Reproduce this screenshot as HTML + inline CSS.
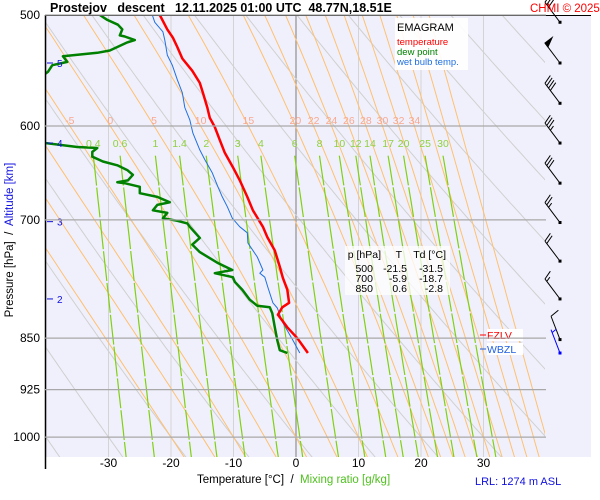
<!DOCTYPE html>
<html><head><meta charset="utf-8">
<style>
html,body{margin:0;padding:0;background:#fff;}
svg{display:block;font-family:"Liberation Sans",sans-serif;}
</style></head>
<body>
<svg id="chart" width="600" height="500" viewBox="0 0 600 500" xmlns="http://www.w3.org/2000/svg">
  <rect x="45" y="15" width="546" height="442" fill="#f0f0fc"/>
  <defs><clipPath id="plotclip"><rect x="45" y="15" width="500" height="442"/></clipPath></defs>
  <g id="grid" clip-path="url(#plotclip)"></g>
  <g id="series" clip-path="url(#plotclip)"></g>
  <g id="labels"></g>
  <g id="winds"></g>
  <line x1="45.5" y1="15" x2="45.5" y2="469" stroke="#000" stroke-width="1.5"/>
  <line x1="45" y1="15.5" x2="591" y2="15.5" stroke="#000" stroke-width="1"/>
  <text x="50" y="12" font-size="12.5" font-weight="bold" fill="#000" xml:space="preserve">Prostejov   descent   12.11.2025 01:00 UTC  48.77N,18.51E</text>
  <text x="530" y="12" font-size="11.5" fill="#f00">CHMI © 2025</text>
  <text transform="translate(13,240) rotate(-90)" text-anchor="middle" font-size="11.5" xml:space="preserve"><tspan fill="#000">Pressure [hPa]  /  </tspan><tspan fill="#1010e0">Altitude [km]</tspan></text>
  <text x="197" y="483" font-size="11.5" xml:space="preserve"><tspan fill="#000">Temperature [°C]  /  </tspan><tspan fill="#50c020">Mixing ratio [g/kg]</tspan></text>
  <text x="475" y="485" font-size="11" fill="#1010e0">LRL: 1274 m ASL</text>
  <g>
    <rect x="395" y="18" width="73" height="52" fill="#fff" opacity="0.9"/>
    <text x="397" y="31" font-size="11" fill="#000">EMAGRAM</text>
    <text x="397" y="45" font-size="9.5" fill="#f00">temperature</text>
    <text x="397" y="55" font-size="9.5" fill="#008000">dew point</text>
    <text x="397" y="65" font-size="9.5" fill="#2070e0">wet bulb temp.</text>
  </g>
  <g font-size="10.5" fill="#000" text-anchor="end">
    <rect x="345" y="246" width="105" height="49" fill="#fff" opacity="0.75"/>
    <text x="381" y="258" text-anchor="end">p [hPa]</text>
    <text x="402" y="258">T</text>
    <text x="446" y="258">Td [°C]</text>
    <text x="373" y="272">500</text><text x="407" y="272">-21.5</text><text x="443" y="272">-31.5</text>
    <text x="373" y="282">700</text><text x="407" y="282">-5.9</text><text x="443" y="282">-18.7</text>
    <text x="373" y="292">850</text><text x="407" y="292">0.6</text><text x="443" y="292">-2.8</text>
  </g>
  <g>
    <rect x="487" y="329" width="36" height="12" fill="#fff"/>
    <line x1="480" y1="335" x2="486" y2="335" stroke="#f00"/>
    <text x="487" y="339" font-size="10.5" fill="#f00">FZLV</text>
  </g>
  <g>
    <rect x="487" y="343" width="36" height="12" fill="#fff"/>
    <line x1="480" y1="349" x2="486" y2="349" stroke="#2060e0"/>
    <text x="487" y="353" font-size="10.5" fill="#2060e0">WBZL</text>
  </g>
</svg>
<script>
// ---- data ----
const tempP = [500,512,519,527,537,548,559,568,582,592,601,614,627,642,656,674,689,708,720,736,756,770,785,802,808,818,835,850,871];
const tempT = [-21.8,-20.6,-19.7,-19.0,-18.2,-16.6,-15.4,-14.9,-14.2,-13.8,-13.0,-12.2,-11.4,-10.1,-9.0,-7.8,-6.9,-5.3,-4.6,-3.4,-2.6,-2.1,-1.4,-1.1,-2.2,-2.9,-1.4,0.2,1.9];
const dewP = [500,504,508,512,517,518,521,523,530,532,535,540,543,549,551,560,610,617,621,622,626,631,636,640,645,650,656,658,659,663,670,674,680,683,689,692,698,701,704,708,721,729,738,751,760,764,769,775,785,798,806,808,816,835,853,867,871];
const dewT = [-31.4,-30.2,-28.5,-27.8,-28.2,-27.4,-25.8,-27.0,-29.8,-31.8,-37.3,-36.6,-39.0,-39.7,-40.2,-48,-48,-40.2,-35.0,-31.8,-32.6,-32.6,-30.9,-28.6,-27.0,-26.1,-26.9,-28.6,-27.4,-25.0,-25.0,-22.2,-20.2,-22.2,-22.9,-20.6,-21.3,-19.0,-17.4,-17.0,-15.4,-16.6,-15.4,-12.6,-10.2,-13.0,-10.1,-9.8,-8.6,-7.4,-6.2,-4.2,-3.8,-3.4,-3.0,-2.6,-1.4];
const wbP = [500,506,514,521,534,543,556,568,582,594,607,624,634,648,663,674,685,698,708,715,727,744,760,764,769,782,802,809,829,853,871];
const wbT = [-23.0,-22.6,-21.3,-21.0,-20.6,-19.8,-19.0,-18.2,-17.8,-17.0,-16.5,-15.4,-14.6,-13.4,-12.5,-11.8,-11.0,-10.2,-9.0,-7.8,-7.7,-6.2,-5.3,-5.8,-5.0,-4.5,-3.7,-3.0,-2.1,-0.5,0.6];
const isobars = [500,600,700,850,925,1000];
const isotherms = [-40,-30,-20,-10,0,10,20,30];
const tempTickLabels = [-30,-20,-10,0,10,20,30];
const dryThetas = [-40,-30,-20,-10,0,10,20,30,40,50,60,70,80,90,100,110,120,130,140,150];
const moistThetas = [-20,-15,-10,-5,0,5,10,15,20,22,24,26,28,30,32,34,36,38,40];
const moistLabels = [-5,0,5,10,15,20,22,24,26,28,30,32,34];
const mixRatios = [0.4,0.6,1,1.4,2,3,4,6,8,10,12,14,17,20,25,30];
const altKm = [5,4,3,2];
const altP = [541,617,702,797];
const windP = [506,541,578,617,659,703,749,797,852,871];
const windDir = [323,323,323,323,323,323,323,323,339,339];
const windSpd = [30,50,40,35,30,25,20,15,10,5];

// ---- axes ----
const X = t => 296 + 6.25*t;
const Y = p => 15 + 609*Math.log(p/500);
const NS = 'http://www.w3.org/2000/svg';
function mk(tag, attrs, parent){const e=document.createElementNS(NS,tag);for(const k in attrs)e.setAttribute(k,attrs[k]);parent.appendChild(e);return e;}
const grid=document.getElementById('grid'), series=document.getElementById('series'), labels=document.getElementById('labels'), winds=document.getElementById('winds');
const pathOf = pts => pts.map((q,i)=>(i?'L':'M')+q[0].toFixed(1)+' '+q[1].toFixed(1)).join(' ');

// isotherms
isotherms.forEach(t=>{
  const l=mk('line',{x1:X(t),y1:15,x2:X(t),y2:457,stroke:t===0?'#909090':'#d4d4d4','stroke-width':t===0?1.2:1},grid);
  
  
});
// dry adiabats
dryThetas.forEach(th=>{
  const pts=[];for(let p=1050;p>=480;p-=5){pts.push([X((th+273.15)*Math.pow(p/1000,0.2857)-273.15),Y(p)]);}
  const e=mk('path',{d:pathOf(pts),fill:'none',stroke:'#d0d0d0','stroke-width':1},grid);
  
  
});
// moist adiabats
function es(tc){return 6.112*Math.exp(17.67*tc/(tc+243.5));}
function moistT(thw,ptarget){
  let T=thw+273.15, p=1000, dp = ptarget<1000?-1:1;
  while((dp<0&&p>ptarget)||(dp>0&&p<ptarget)){
    const e=es(T-273.15), rs=0.622*e/(p-e);
    const g=(287*T+2.5e6*rs)/(p*(1004+2.5e6*2.5e6*rs*0.622/(287*T*T)));
    T+=g*dp; p+=dp;
  }
  return T-273.15;
}
const moistAt600={};
moistThetas.forEach(th=>{
  const pts=[];
  for(let p=1050;p>=480;p-=10){pts.push([X(moistT(th,p)),Y(p)]);}
  moistAt600[th]=moistT(th,600);
  const e=mk('path',{d:pathOf(pts),fill:'none',stroke:'#ffc070','stroke-width':1},grid);
  
  
});
// mixing ratio lines
function tMix(w,p){const e=w/1000*p/(0.622+w/1000);const l=Math.log(e/6.112);return 243.5*l/(17.67-l);}
mixRatios.forEach(w=>{
  const pts=[];for(let p=630;p<=1050;p+=10){pts.push([X(tMix(w,p)),Y(p)]);}
  const e=mk('path',{d:pathOf(pts),fill:'none',stroke:'#80d010','stroke-width':1.2,'stroke-dasharray':'30 2'},grid);
  
  
  const t=mk('text',{x:X(tMix(w,630)),y:147,'font-size':10.5,fill:'#90d040','text-anchor':'middle'},labels);
  t.textContent=String(w);
  
  
});
// isobars
isobars.forEach(p=>{
  const l=mk('line',{x1:45,y1:Y(p),x2:546,y2:Y(p),stroke:'#a8a8a8','stroke-width':1.2},grid.parentNode);
  
  
  const t=mk('text',{x:40,y:Y(p)+4,'font-size':12,'text-anchor':'end',fill:'#000'},labels);
  t.textContent=String(p);
  
  
});
// moist labels
moistLabels.forEach(th=>{
  const t=mk('text',{x:X(moistAt600[th]),y:124,'font-size':10.5,fill:'#f8a890','text-anchor':'middle'},labels);
  t.textContent=String(th);
  
  
});
// x tick labels
tempTickLabels.forEach(t=>{
  const e=mk('text',{x:X(t),y:467,'font-size':12,'text-anchor':'middle',fill:'#000'},labels);
  e.textContent=String(t);
  
  
});
// altitude markers
altKm.forEach((k,i)=>{
  const y=Y(altP[i]);
  const l=mk('line',{x1:47,y1:y,x2:53,y2:y,stroke:'#1010e0'},labels);
  
  
  const t=mk('text',{x:57,y:y+4,'font-size':10,fill:'#1010e0'},labels);
  t.textContent=String(k);
  
  
});
// profiles
function profile(P,T,color,w,name){
  const pts=P.map((p,i)=>[X(T[i]),Y(p)]);
  const e=mk('path',{d:pathOf(pts),fill:'none',stroke:color,'stroke-width':w,'stroke-linejoin':'round'},series);
  
  
}
profile(wbP,wbT,'#2070e0',1,'wet-bulb-line');
profile(dewP,dewT,'#008000',2.5,'dew-point-line');
profile(tempP,tempT,'#ff0000',2.5,'temperature-line');
// wind barbs
windP.forEach((p,i)=>{
  const bx=560, by=Y(p), a=windDir[i]*Math.PI/180, L=25;
  const ux=Math.sin(a), uy=-Math.cos(a);
  const tx=bx+ux*L, ty=by+uy*L;
  const col = i===windP.length-1 ? '#0000ff' : '#000';
  const g=mk('g',{stroke:col,'stroke-width':1,fill:col},winds);
  
  
  mk('line',{x1:bx,y1:by,x2:tx,y2:ty},g);
  mk('rect',{x:bx-1.5,y:by-1.5,width:3,height:3,stroke:'none'},g);
  const px=-uy, py=ux;
  let s=windSpd[i], pos=0;
  while(s>=50){
    const x0=tx-ux*pos, y0=ty-uy*pos;
    mk('polygon',{points:`${x0},${y0} ${x0+px*9},${y0+py*9} ${x0-ux*5},${y0-uy*5}`},g);
    pos+=6; s-=50;
  }
  while(s>=10){
    const x0=tx-ux*pos, y0=ty-uy*pos;
    mk('line',{x1:x0,y1:y0,x2:x0+px*9+ux*3,y2:y0+py*9+uy*3},g);
    pos+=3; s-=10;
  }
  if(s>=5){
    if(pos===0)pos=3;
    const x0=tx-ux*pos, y0=ty-uy*pos;
    mk('line',{x1:x0,y1:y0,x2:x0+px*5+ux*1.5,y2:y0+py*5+uy*1.5},g);
  }
});
</script>
</body></html>
